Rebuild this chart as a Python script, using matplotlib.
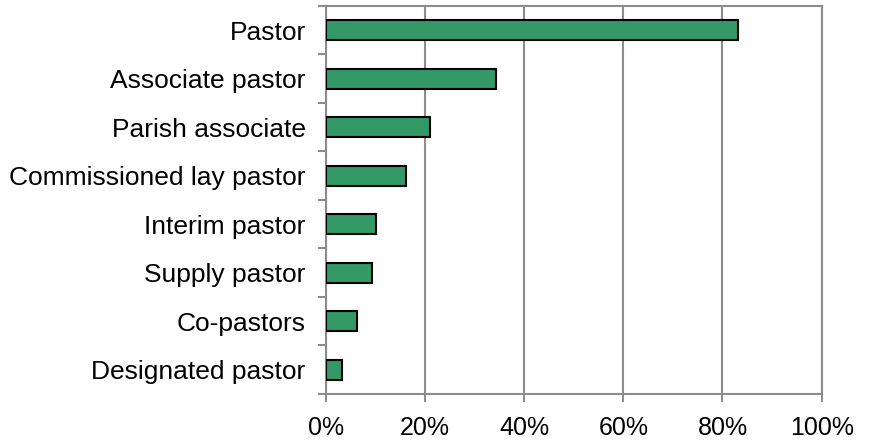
import numpy as np
import matplotlib.pyplot as plt
from matplotlib.ticker import FuncFormatter

plt.rcParams['font.family'] = ['Liberation Sans', 'DejaVu Sans']

roles = ['Pastor', 'Associate pastor', 'Parish associate', 'Commissioned lay pastor',
         'Interim pastor', 'Supply pastor', 'Co-pastors', 'Designated pastor']
shares = [83.2, 34.3, 21.0, 16.2, 10.1, 9.3, 6.2, 3.3]

grey = '#8c8c8c'
fig = plt.figure(figsize=(8.69, 4.42), dpi=100)
ax = fig.add_axes([0.375, 0.1086, 0.5705, 0.878])

y = np.arange(len(roles))[::-1]
ax.barh(y, shares, height=0.41, color='#339966', edgecolor='black', linewidth=1.5, zorder=3)

ax.set_xlim(0, 100)
ax.set_ylim(-0.5, len(roles) - 0.5)
ax.set_xticks(np.arange(0, 101, 20))
ax.xaxis.set_major_formatter(FuncFormatter(lambda v, p: f'{v:.0f}%'))
ax.grid(axis='x', color=grey, linewidth=1.5, zorder=0)

# category labels between boundary ticks
ax.set_yticks(np.arange(-0.5, len(roles), 1.0))
ax.set_yticklabels([])
ax.set_yticks(y, minor=True)
ax.set_yticklabels(roles, minor=True)
ax.tick_params(axis='y', which='minor', length=0, labelsize=19, pad=14.5)
ax.tick_params(axis='y', which='major', length=6, width=1.5, color=grey, direction='out')
ax.tick_params(axis='x', length=6, width=1.5, color=grey, labelsize=18, pad=10)

for s in ax.spines.values():
    s.set_color(grey)
    s.set_linewidth(1.5)

plt.savefig('out.png', dpi=100)
